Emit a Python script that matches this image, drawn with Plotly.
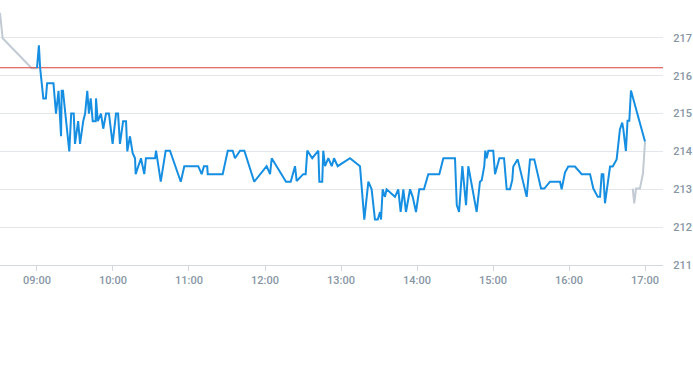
import pandas as pd
import plotly.graph_objects as go

# minutes after 09:00 and prices
blue_minutes = [0, 1.5, 2.5, 5, 7, 8, 13, 15, 17, 19, 19.5, 20.5, 25.5, 27, 29, 30, 32.5, 34, 36.5, 38,
                39.7, 41, 42.4, 44, 46.3, 46.6, 48, 50.5, 52.3, 54.5, 56.8, 59.7, 62.4, 64, 65.5, 68, 70.3,
                71.3, 73.4, 75.5, 77.4, 77.9, 82.1, 84.7, 86, 93.2, 94, 95, 97.7, 101.6, 105, 113.5, 116.3,
                127.3, 130, 131.8, 134.4, 134.8, 146.6, 150.6, 154.5, 156.3, 160.3, 163.7, 171.5, 181.3,
                184, 185.3, 196.6, 200.3, 203.7, 205, 210.2, 212.1, 213.4, 217.3, 222.1, 222.9, 225.2, 226,
                227.4, 230, 232.7, 234.5, 237.4, 247.1, 255, 258.4, 261.6, 264.2, 266.8, 269, 270.8, 271.6,
                272.9, 274.7, 276, 282.6, 285.2, 287.1, 289.2, 291.3, 294.5, 296.6, 299.2, 301.8, 305.5,
                308.9, 317.6, 320.8, 330, 331.4, 333.2, 335.8, 338.7, 340.5, 347.1, 349.7, 351.1, 353.1,
                353.9, 355, 356.3, 360.2, 361.6, 365, 368.7, 370.8, 373.4, 375.2, 376, 379.5, 382.6, 386.6,
                389.2, 392.6, 397.9, 400.5, 405, 412.9, 414.2, 416.8, 419.4, 424.7, 430, 436.6, 439.2, 442.7,
                444.5, 445.8, 447.1, 448.4, 452.4, 454.5, 457.6, 460.2, 462, 462.8, 464.9, 466.2, 467.6,
                468.9, 480]
blue_prices = [216.2, 216.8, 216.2, 215.4, 215.4, 215.8, 215.8, 215.0, 215.6, 214.4, 215.6, 215.6, 214.0,
               215.0, 215.0, 214.2, 214.8, 214.2, 214.8, 215.0, 215.6, 215.0, 215.4, 214.8, 214.8, 215.4,
               214.8, 215.0, 214.6, 215.0, 215.0, 214.2, 215.0, 215.0, 214.2, 214.8, 214.8, 214.0, 214.4,
               213.96, 213.82, 213.4, 213.82, 213.4, 213.82, 213.82, 214.02, 213.77, 213.2, 214.02, 214.02,
               213.2, 213.61, 213.61, 213.4, 213.61, 213.61, 213.4, 213.4, 214.02, 214.02, 213.82, 214.02,
               214.02, 213.2, 213.61, 213.4, 213.82, 213.2, 213.2, 213.61, 213.22, 213.4, 213.4, 214.02,
               213.82, 214.02, 213.2, 213.2, 214.02, 213.61, 213.82, 213.61, 213.82, 213.61, 213.82, 213.61,
               212.2, 213.2, 213.0, 212.2, 212.2, 212.4, 212.2, 213.0, 212.8, 213.0, 212.8, 213.0, 212.4,
               213.0, 212.4, 213.0, 212.8, 212.4, 213.0, 213.0, 213.4, 213.4, 213.82, 213.82, 212.58, 212.4,
               213.61, 212.58, 213.61, 212.4, 213.2, 213.24, 213.61, 214.02, 213.82, 214.02, 214.02, 213.4,
               213.82, 213.82, 213.0, 213.0, 213.24, 213.6, 213.79, 213.33, 212.8, 213.79, 213.79, 213.02,
               213.02, 213.2, 213.2, 213.0, 213.44, 213.6, 213.6, 213.4, 213.4, 213.02, 212.8, 212.8, 213.4,
               213.4, 212.63, 213.6, 213.6, 213.79, 214.58, 214.76, 214.61, 214.01, 214.81, 214.81, 215.61,
               214.26]

pre_minutes = [-29.2, -27.1, -4.2, -0.2, 0]
pre_prices = [217.66, 216.99, 216.2, 216.2, 216.2]

post_minutes = [470.3, 471.5, 472.9, 476, 478.4, 480]
post_prices = [213.02, 212.63, 213.02, 213.02, 213.42, 214.26]

reference_price = 216.21
x_range_minutes = [-29.2, 494.2]
y_range = [211, 218]

base = pd.Timestamp("2024-01-02 09:00:00")


def to_time(mins):
    return [base + pd.Timedelta(minutes=m) for m in mins]


fig = go.Figure()
gray = "#c2cad3"
fig.add_trace(go.Scatter(x=to_time(pre_minutes), y=pre_prices, mode="lines",
                         line=dict(color=gray, width=2), hoverinfo="skip"))
fig.add_trace(go.Scatter(x=to_time(post_minutes), y=post_prices, mode="lines",
                         line=dict(color=gray, width=2), hoverinfo="skip"))
fig.add_trace(go.Scatter(x=to_time(x_range_minutes), y=[reference_price] * 2, mode="lines",
                         line=dict(color="#d9413b", width=1), hoverinfo="skip"))
fig.add_trace(go.Scatter(x=to_time(blue_minutes), y=blue_prices, mode="lines",
                         line=dict(color="#168fe2", width=2)))

tick_font = dict(family="Roboto, sans-serif", size=11, color="#8896a4", weight=500)

fig.update_layout(
    width=693, height=365,
    margin=dict(l=0, r=30, t=0, b=100),
    paper_bgcolor="white", plot_bgcolor="white",
    showlegend=False,
    xaxis=dict(
        type="date",
        range=to_time(x_range_minutes),
        tickformat="%H:%M",
        dtick=3600000,
        tick0=base,
        showgrid=False,
        showline=True, linecolor="#d3d8de", linewidth=1,
        ticks="outside", ticklen=5, tickcolor="#d3d8de", tickwidth=1,
        tickfont=tick_font,
        zeroline=False,
        automargin=False,
    ),
    yaxis=dict(
        side="right",
        range=y_range,
        dtick=1,
        showgrid=True, gridcolor="#e3e6ea", gridwidth=1,
        ticks="outside", ticklen=7, tickcolor="rgba(0,0,0,0)",
        tickfont=tick_font,
        zeroline=False,
        showline=False,
        automargin=False,
    ),
)

fig.write_html(
    "out.html",
    config={"displayModeBar": False},
    post_script="document.body.style.margin='0';document.body.style.overflow='hidden';",
)
